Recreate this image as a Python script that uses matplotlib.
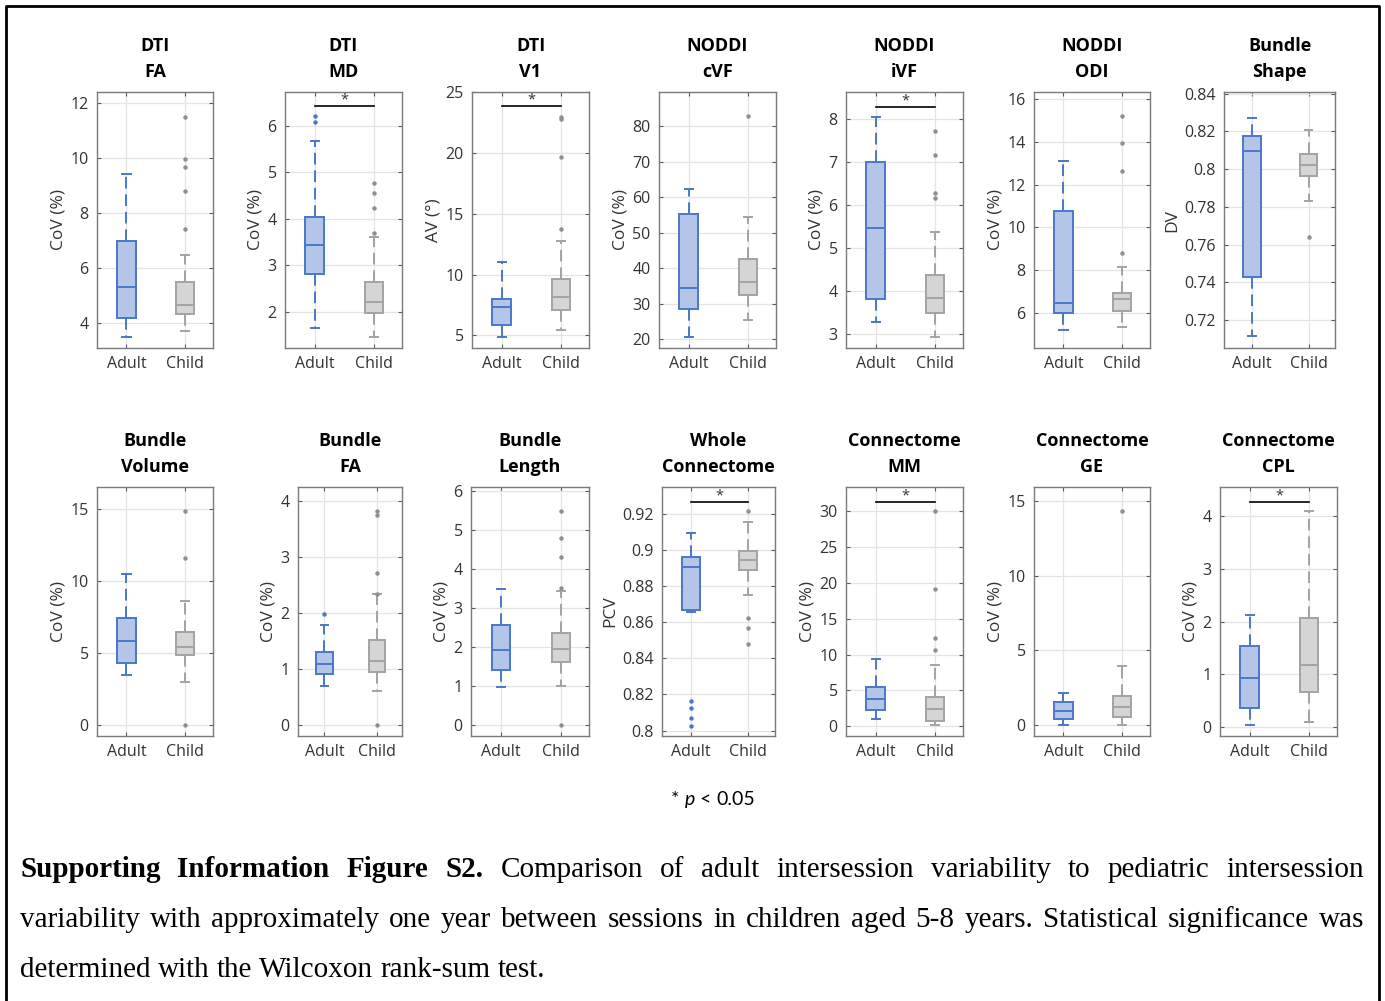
import matplotlib
matplotlib.use('Agg')
import matplotlib.pyplot as plt
from matplotlib.transforms import IdentityTransform
from matplotlib.ticker import FuncFormatter

# --- data (per panel, row by row) ---
titles = [("DTI", "FA"), ("DTI", "MD"), ("DTI", "V1"), ("NODDI", "cVF"), ("NODDI", "iVF"),
          ("NODDI", "ODI"), ("Bundle", "Shape"),
          ("Bundle", "Volume"), ("Bundle", "FA"), ("Bundle", "Length"), ("Whole", "Connectome"),
          ("Connectome", "MM"), ("Connectome", "GE"), ("Connectome", "CPL")]
ylabels = ["CoV (%)", "CoV (%)", "AV (°)", "CoV (%)", "CoV (%)", "CoV (%)", "DV",
           "CoV (%)", "CoV (%)", "CoV (%)", "PCV", "CoV (%)", "CoV (%)", "CoV (%)"]
groups = ["Adult", "Child"]

adult_q1 = [4.18, 2.81, 5.87, 28.5, 3.81, 6.02, 0.7431, 4.28, 0.905, 1.42, 0.8665, 2.33, 0.38, 0.36]
adult_med = [5.30, 3.44, 7.29, 34.5, 5.47, 6.48, 0.8097, 5.80, 1.095, 1.93, 0.8906, 3.81, 0.92, 0.92]
adult_q3 = [6.97, 4.04, 8.00, 55.2, 7.00, 10.78, 0.8176, 7.42, 1.30, 2.57, 0.8960, 5.44, 1.52, 1.54]
adult_lo = [3.50, 1.65, 4.89, 20.75, 3.29, 5.19, 0.7114, 3.49, 0.70, 0.98, 0.8654, 1.07, 0.0, 0.03]
adult_hi = [9.41, 5.67, 11.04, 62.5, 8.06, 13.11, 0.8270, 10.49, 1.78, 3.49, 0.9091, 9.35, 2.12, 2.13]
adult_out = [[], [6.07, 6.20], [], [], [], [], [], [], [1.98], [],
             [0.8161, 0.8127, 0.8070, 0.8028], [], [], []]

child_q1 = [4.33, 1.98, 7.05, 32.65, 3.50, 6.11, 0.7962, 4.88, 0.946, 1.62, 0.8886, 0.74, 0.54, 0.66]
child_med = [4.66, 2.20, 8.17, 36.3, 3.84, 6.65, 0.8022, 5.38, 1.14, 1.94, 0.8943, 2.37, 1.18, 1.18]
child_q3 = [5.49, 2.63, 9.64, 42.6, 4.38, 6.93, 0.8082, 6.42, 1.51, 2.37, 0.8993, 4.09, 1.94, 2.06]
child_lo = [3.72, 1.46, 5.46, 25.5, 2.94, 5.35, 0.7832, 2.98, 0.61, 1.01, 0.8751, 0.19, 0.0, 0.09]
child_hi = [6.48, 3.61, 12.79, 54.4, 5.38, 8.16, 0.8205, 8.60, 2.33, 3.43, 0.9154, 8.51, 3.93, 4.09]
child_out = [[7.44, 8.81, 9.69, 9.98, 11.5], [3.69, 4.23, 4.54, 4.76], [13.77, 19.64, 22.8, 22.97],
             [82.9], [6.17, 6.29, 7.16, 7.72], [8.8, 12.65, 13.97, 15.2], [0.7638],
             [0.0, 11.58, 14.84], [0.0, 2.34, 2.71, 3.75, 3.82], [0.0, 3.52, 4.31, 4.78, 5.48],
             [0.9215, 0.8622, 0.8569, 0.8478], [10.7, 12.37, 19.16, 30.0], [14.33], []]

# significance bars (None = not significant)
sig_y = [None, 6.41, 23.83, None, 8.28, None, None,
         None, None, None, 0.9266, 31.35, None, 4.27]

ylims = [(3.1, 12.4), (1.22, 6.72), (3.96, 25), (17.6, 89.7), (2.68, 8.63), (4.37, 16.33),
         (0.7052, 0.8409), (-0.76, 16.5), (-0.2, 4.25), (-0.27, 6.09), (0.797, 0.9348),
         (-1.35, 33.4), (-0.74, 15.94), (-0.17, 4.55)]
yticks = [[4, 6, 8, 10, 12], [2, 3, 4, 5, 6], [5, 10, 15, 20, 25], [20, 30, 40, 50, 60, 70, 80],
          [3, 4, 5, 6, 7, 8], [6, 8, 10, 12, 14, 16], [0.72, 0.74, 0.76, 0.78, 0.80, 0.82, 0.84],
          [0, 5, 10, 15], [0, 1, 2, 3, 4], [0, 1, 2, 3, 4, 5, 6],
          [0.80, 0.82, 0.84, 0.86, 0.88, 0.90, 0.92], [0, 5, 10, 15, 20, 25, 30],
          [0, 5, 10, 15], [0, 1, 2, 3, 4]]

# axes boxes in pixels (left, right, top, bottom)
W, H = 1385, 1001
row1 = [(97, 213), (285, 402), (472, 589), (659, 776), (846, 963), (1034, 1150), (1224, 1335)]
row2 = [(97, 213), (298, 402), (471, 589), (662, 775), (846, 963), (1034, 1150), (1220, 1337)]
boxes = [(l, r, 92, 348) for l, r in row1] + [(l, r, 487, 736) for l, r in row2]

BLUE_EDGE = '#4a77c9'
BLUE_FACE = '#b3c6e7'
GRAY_EDGE = '#a3a3a3'
GRAY_FACE = '#d5d5d5'
GRAY_OUT = '#8f8f8f'
TICK_FONT = 'Open Sans'
HEAD_FONT = 'Open Sans'

fig = plt.figure(figsize=(W / 100, H / 100), dpi=100)


def draw_group(ax, pos, q1, med, q3, lo, hi, out, edge, face, flier):
    st = [{'q1': q1, 'med': med, 'q3': q3, 'whislo': lo, 'whishi': hi, 'fliers': out}]
    ax.bxp(st, positions=[pos], widths=0.31, patch_artist=True, capwidths=0.14,
           boxprops=dict(facecolor=face, edgecolor=edge, linewidth=1.4),
           medianprops=dict(color=edge, linewidth=1.4),
           whiskerprops=dict(color=edge, linewidth=1.4, linestyle=(0, (6, 3))),
           capprops=dict(color=edge, linewidth=1.4),
           flierprops=dict(marker='o', markersize=2.2, markerfacecolor=flier,
                           markeredgecolor=flier, linestyle='none'))


for i in range(14):
    l, r, t, b = boxes[i]
    ax = fig.add_axes([l / W, 1 - b / H, (r - l) / W, (b - t) / H])
    draw_group(ax, 1, adult_q1[i], adult_med[i], adult_q3[i], adult_lo[i], adult_hi[i],
               adult_out[i], BLUE_EDGE, BLUE_FACE, BLUE_EDGE)
    draw_group(ax, 2, child_q1[i], child_med[i], child_q3[i], child_lo[i], child_hi[i],
               child_out[i], GRAY_EDGE, GRAY_FACE, GRAY_OUT)
    ax.set_xlim(0.5, 2.47)
    ax.set_ylim(*ylims[i])
    ax.set_xticks([1, 2])
    ax.set_xticklabels(groups)
    ax.set_yticks(yticks[i])
    ax.yaxis.set_major_formatter(FuncFormatter(lambda v, p: f"{v:g}"))
    ax.grid(True, color='#e4e4e4', linewidth=0.9)
    ax.set_axisbelow(True)
    for s in ax.spines.values():
        s.set_color('#7a7a7a')
        s.set_linewidth(1.0)
    ax.tick_params(direction='in', length=3, width=0.8, color='#5a5a5a',
                   top=True, right=True, labelsize=11.5, labelcolor='#333333', pad=6)
    for lab in ax.get_xticklabels() + ax.get_yticklabels():
        lab.set_fontfamily(TICK_FONT)
    ax.set_ylabel(ylabels[i], fontsize=12.5, family=TICK_FONT, color='#333333', labelpad=3)

    if sig_y[i] is not None:
        ax.plot([1, 2], [sig_y[i], sig_y[i]], color='black', linewidth=1.2)
        ax.annotate('*', (1.5, sig_y[i]), xytext=(0, -1), textcoords='offset points',
                    ha='center', va='bottom', fontsize=10.5, color='#333333', family=TICK_FONT)

    cx = (l + r) / 2
    ty = 46 if i < 7 else 441
    fig.text(cx, H - ty, titles[i][0], transform=IdentityTransform(), ha='center',
             va='center', fontsize=13, fontweight='bold', family=HEAD_FONT)
    fig.text(cx, H - ty - 26, titles[i][1], transform=IdentityTransform(), ha='center',
             va='center', fontsize=13, fontweight='bold', family=HEAD_FONT)

# outer frame (no bottom edge)
fig.add_artist(plt.Line2D([6 / W, 6 / W, 1379 / W, 1379 / W], [0, 1 - 6 / H, 1 - 6 / H, 0],
                          transform=fig.transFigure, color='black', linewidth=2))

renderer = fig.canvas.get_renderer()


def word_run(words, y, x0, x1=None, center=None):
    """Lay out (text, kwargs) words on one pixel row; justify if x1 given."""
    objs = []
    for w, kw in words:
        objs.append(fig.text(0, H - y, w, transform=IdentityTransform(), ha='left',
                             va='baseline', **kw))
    widths = [o.get_window_extent(renderer).width for o in objs]
    kw0 = words[0][1]
    a = fig.text(0, 0, 'a a', **kw0)
    b = fig.text(0, 0, 'aa', **kw0)
    space = a.get_window_extent(renderer).width - b.get_window_extent(renderer).width
    a.remove()
    b.remove()
    if x1 is not None:
        gap = (x1 - x0 - sum(widths)) / (len(objs) - 1)
    else:
        gap = space
    if center is not None:
        x0 = center - (sum(widths) + gap * (len(objs) - 1)) / 2
    x = x0
    for o, wd in zip(objs, widths):
        o.set_x(x)
        x += wd + gap


sm = dict(family='Lato', fontsize=14)
word_run([('*', sm), ('p', dict(sm, style='italic')), ('<', sm), ('0.05', sm)],
         805, 0, center=713)

reg = dict(family='Liberation Serif', fontsize=21)
bold = dict(reg, fontweight='bold')
line1 = [(w, bold) for w in "Supporting Information Figure S2.".split()] + \
        [(w, reg) for w in "Comparison of adult intersession variability to pediatric intersession".split()]
line2 = [(w, reg) for w in ("variability with approximately one year between sessions in children "
                            "aged 5-8 years. Statistical significance was").split()]
line3 = [(w, reg) for w in "determined with the Wilcoxon rank-sum test.".split()]
word_run(line1, 877, 20, 1364)
word_run(line2, 927, 20, 1364)
word_run(line3, 977, 20)

fig.savefig('out.png', dpi=100)
